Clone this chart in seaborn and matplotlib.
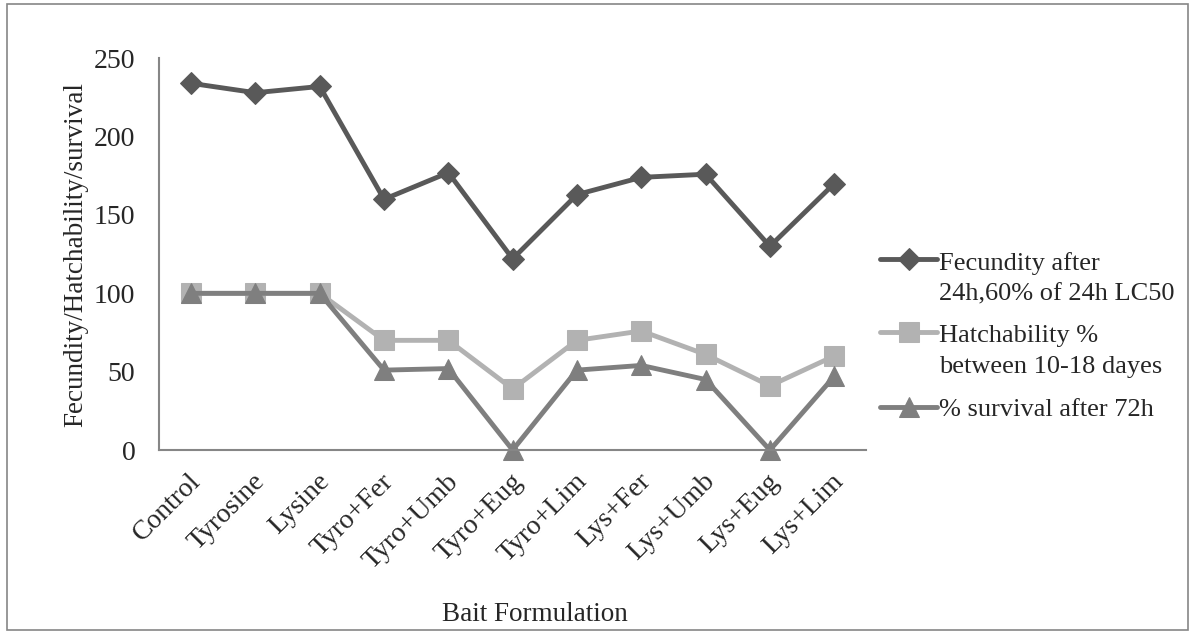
"""
Bait formulation line chart
"""

import numpy as np
import pandas as pd
import matplotlib
matplotlib.use("Agg")
import matplotlib.pyplot as plt
import matplotlib.transforms as mtransforms
from matplotlib.patches import Rectangle
from matplotlib.legend_handler import HandlerLine2D
import seaborn as sns

# Data
baits = [
    "Control", "Tyrosine", "Lysine", "Tyro+Fer", "Tyro+Umb", "Tyro+Eug",
    "Tyro+Lim", "Lys+Fer", "Lys+Umb", "Lys+Eug", "Lys+Lim",
]
fecundity = [234, 228, 232, 160, 177, 122, 163, 174, 176, 130, 170]
hatchability = [100, 100, 100, 70, 70, 39, 70, 76, 61, 41, 60]
survival = [100, 100, 100, 51, 52, 0, 51, 54, 45, 0, 47]

series_names = [
    "Fecundity after\n24h,60% of 24h LC50",
    "Hatchability %\nbetween 10-18 dayes",
    "% survival after 72h",
]
series_values = [fecundity, hatchability, survival]
colors = ["#595959", "#b2b2b2", "#7f7f7f"]
markers = ["D", "s", "^"]
msizes = [11, 14, 14]


class FirstLineHandler(HandlerLine2D):
    """Put the legend key next to the first line of a two-line label."""

    def __init__(self, shift=0.0, **kw):
        super().__init__(**kw)
        self.shift = shift

    def create_artists(self, legend, orig_handle, xdescent, ydescent,
                       width, height, fontsize, trans):
        return super().create_artists(legend, orig_handle, xdescent,
                                      ydescent - self.shift * fontsize,
                                      width, height, fontsize, trans)


sns.set_style("white")
plt.rcParams["font.family"] = ["Liberation Serif", "DejaVu Serif"]

fig = plt.figure(figsize=(11.95, 6.33), dpi=100)
ax = fig.add_axes([0.133, 0.289, 0.592, 0.619])

for name, vals, c, m, ms in zip(series_names, series_values, colors, markers, msizes):
    df = pd.DataFrame({"bait": baits, "value": vals})
    sns.lineplot(
        data=df, x="bait", y="value", ax=ax, sort=False,
        color=c, marker=m, markersize=ms, markeredgecolor=c,
        linewidth=3.5, label=name,
    )

ax.set_xlim(-0.5, len(baits) - 0.5)
ax.set_ylim(0, 250)
ax.set_yticks([0, 50, 100, 150, 200, 250])
ax.tick_params(axis="y", labelsize=20, length=0, pad=17)
ax.tick_params(axis="x", labelsize=20, length=0, pad=20)
# nudge the slanted labels a little to the right, like the original
nudge = mtransforms.ScaledTranslation(0.06, 0, fig.dpi_scale_trans)
for lab in ax.get_xticklabels():
    lab.set_rotation(45)
    lab.set_ha("right")
    lab.set_va("center")
    lab.set_rotation_mode("anchor")
    lab.set_transform(lab.get_transform() + nudge)
for s in ["top", "right"]:
    ax.spines[s].set_visible(False)
for s in ["left", "bottom"]:
    ax.spines[s].set_color("#868686")
    ax.spines[s].set_linewidth(1.5)
for line in ax.lines:
    line.set_clip_on(False)

ax.set_xlabel("Bait Formulation", fontsize=19.5)
ax.xaxis.set_label_coords(0.532, -0.388)
ax.set_ylabel("Fecundity/Hatchability/survival", fontsize=19.5, labelpad=4)

handles, labels = ax.get_legend_handles_labels()
hmap = {h: FirstLineHandler(shift=1.4 if "\n" in l else 0.0) for h, l in zip(handles, labels)}
leg = ax.legend(
    handles, labels, handler_map=hmap,
    loc="center left", bbox_to_anchor=(1.005, 0.29), frameon=False,
    fontsize=19, handlelength=2.15, handletextpad=0.08, labelspacing=0.75,
    borderaxespad=0,
)
for t in leg.get_texts():
    t.set_linespacing(1.5)

fig.patches.append(Rectangle((0.006, 0.004), 0.988, 0.99, transform=fig.transFigure,
                             fill=False, edgecolor="#868686", linewidth=1.2))

fig.savefig("out.png", dpi=100)
